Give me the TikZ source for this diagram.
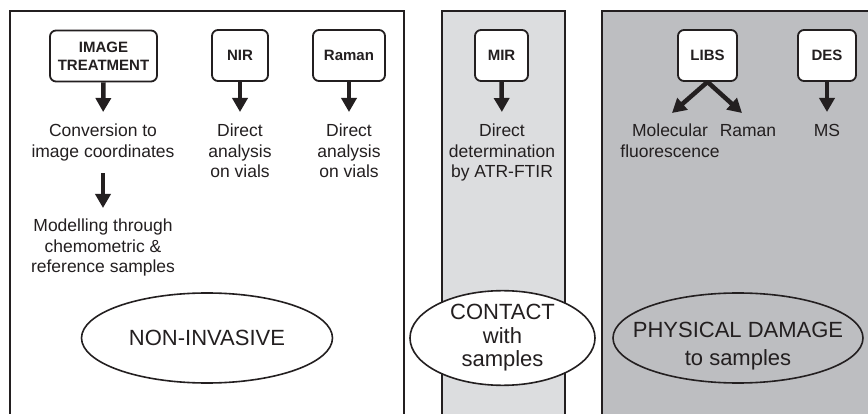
\documentclass[tikz,border=0pt]{standalone}
\usepackage{fontspec}
\setmainfont{Liberation Sans}
\usetikzlibrary{arrows.meta,shapes.geometric}
\definecolor{contactgray}{HTML}{DCDDDF}
\definecolor{damagegray}{HTML}{BDBEC1}
\definecolor{ink}{HTML}{231F20}

\begin{document}
\begin{tikzpicture}[x=1pt,y=-1pt,
  panel/.style={line width=1.8pt, draw=ink},
  method/.style={draw=ink, line width=1.8pt, rounded corners=6pt, fill=white,
    minimum height=51pt, inner sep=0pt, align=center, text=ink,
    font=\bfseries\fontsize{15}{18}\selectfont},
  result/.style={anchor=north, inner sep=0pt, align=center, text=ink,
    font=\fontsize{17.5}{20.5}\selectfont},
  flow/.style={draw=ink, line width=4.5pt, -{Triangle[width=15pt,length=14pt]}},
  class/.style={ellipse, draw=ink, line width=1.6pt, inner sep=0pt,
    align=center, text=ink}
]
\useasboundingbox (0,0) rectangle (868,414);
\fill[white] (0,0) rectangle (868,414);

% three panels, open at the bottom
\fill[contactgray] (442,11) rectangle (565,420);
\fill[damagegray] (602,11) rectangle (875,420);
\draw[panel] (10,420) |- (404,11) -- (404,420);
\draw[panel] (442,420) |- (565,11) -- (565,420);
\draw[panel] (602,420) |- (875,11);

% techniques
\node[method, minimum width=107pt] (img) at (103.5,56) {IMAGE\\TREATMENT};
\node[method, minimum width=56pt] (nir) at (240,55.5) {NIR};
\node[method, minimum width=72pt] (raman) at (349,55.5) {Raman};
\node[method, minimum width=53pt] (mir) at (501.5,55.5) {MIR};
\node[method, minimum width=59pt] (libs) at (707.5,55.5) {LIBS};
\node[method, minimum width=58pt] (des) at (827,55.5) {DES};

% outcomes
\node[result] (conv) at (103,124) {Conversion to\\image coordinates};
\node[result] (model) at (103,219) {Modelling through\\chemometric \&\\reference samples};
\node[result] (nirtxt) at (240,124) {Direct\\analysis\\on vials};
\node[result] (ramantxt) at (349,124) {Direct\\analysis\\on vials};
\node[result] (mirtxt) at (502,124) {Direct\\determination\\by ATR-FTIR};
\node[result] (molec) at (670,124) {Molecular\\fluorescence};
\node[result] (libsraman) at (748,124) {Raman};
\node[result] (ms) at (827,124) {MS};

% arrows
\coordinate (libsL) at (672,113);
\coordinate (libsR) at (742,113);
\draw[flow, shorten >=12pt] (img.south) -- (conv.north);
\draw[flow, shorten <=12pt, shorten >=11pt] (conv.south) -- (model.north);
\draw[flow, shorten >=12pt] (nir.south) -- (nirtxt.north);
\draw[flow, shorten >=12pt] (raman.south) -- (ramantxt.north);
\draw[flow, shorten >=12pt] (mir.south) -- (mirtxt.north);
\draw[flow] (libs.south) -- (libsL);
\draw[flow] (libs.south) -- (libsR);
\draw[flow, shorten >=12pt] (des.south) -- (ms.north);

% invasiveness classes
\node[class, fill=white, minimum width=251pt, minimum height=90pt,
  font=\fontsize{22}{23}\selectfont] (noninv) at (207,338) {NON-INVASIVE};
\node[class, fill=white, minimum width=185pt, minimum height=89pt,
  font=\fontsize{22}{23.5}\selectfont] (contact) at (502.5,338) {CONTACT\\with\\samples};
\node[class, minimum width=250pt, minimum height=90pt] (damage) at (738,338) {};
\node[inner sep=0pt, align=center, text=ink, anchor=north,
  font=\fontsize{22}{28}\selectfont] (damagetxt) at (738,322) {PHYSICAL DAMAGE\\to samples};
\end{tikzpicture}
\end{document}
